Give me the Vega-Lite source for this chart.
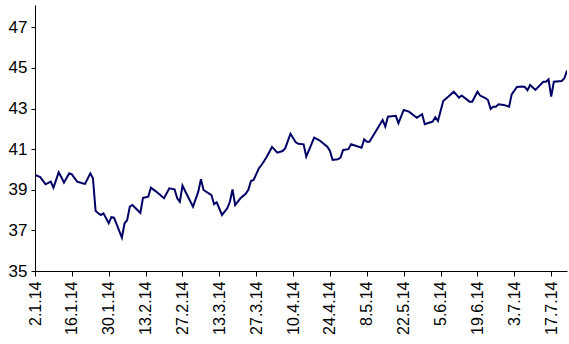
{
  "$schema": "https://vega.github.io/schema/vega-lite/v6.json",
  "width": 532,
  "height": 266,
  "autosize": {"type": "none"},
  "padding": {"left": 35, "top": 5, "right": 2, "bottom": 73},
  "background": "white",
  "config": {
    "view": {"stroke": null},
    "font": "Liberation Sans",
    "axis": {
      "grid": false,
      "domainColor": "black",
      "tickColor": "black",
      "labelColor": "black",
      "labelFont": "Liberation Sans",
      "labelFontSize": 16,
      "domainWidth": 1,
      "tickWidth": 1,
      "title": null
    }
  },
  "data": {
    "values": [
      {"date": "2014-01-02", "value": 39.73},
      {"date": "2014-01-04", "value": 39.62},
      {"date": "2014-01-06", "value": 39.27},
      {"date": "2014-01-08", "value": 39.40},
      {"date": "2014-01-09", "value": 39.10},
      {"date": "2014-01-11", "value": 39.86},
      {"date": "2014-01-12", "value": 39.62},
      {"date": "2014-01-13", "value": 39.35},
      {"date": "2014-01-15", "value": 39.81},
      {"date": "2014-01-16", "value": 39.76},
      {"date": "2014-01-18", "value": 39.40},
      {"date": "2014-01-20", "value": 39.32},
      {"date": "2014-01-21", "value": 39.29},
      {"date": "2014-01-23", "value": 39.81},
      {"date": "2014-01-24", "value": 39.57},
      {"date": "2014-01-25", "value": 37.97},
      {"date": "2014-01-26", "value": 37.84},
      {"date": "2014-01-27", "value": 37.76},
      {"date": "2014-01-28", "value": 37.84},
      {"date": "2014-01-30", "value": 37.35},
      {"date": "2014-01-31", "value": 37.65},
      {"date": "2014-02-01", "value": 37.63},
      {"date": "2014-02-04", "value": 36.64},
      {"date": "2014-02-05", "value": 37.35},
      {"date": "2014-02-06", "value": 37.51},
      {"date": "2014-02-07", "value": 38.17},
      {"date": "2014-02-08", "value": 38.25},
      {"date": "2014-02-11", "value": 37.86},
      {"date": "2014-02-12", "value": 38.60},
      {"date": "2014-02-14", "value": 38.66},
      {"date": "2014-02-15", "value": 39.10},
      {"date": "2014-02-17", "value": 38.91},
      {"date": "2014-02-20", "value": 38.58},
      {"date": "2014-02-22", "value": 39.07},
      {"date": "2014-02-24", "value": 39.02},
      {"date": "2014-02-25", "value": 38.58},
      {"date": "2014-02-26", "value": 38.41},
      {"date": "2014-02-27", "value": 39.21},
      {"date": "2014-02-28", "value": 38.94},
      {"date": "2014-03-03", "value": 38.17},
      {"date": "2014-03-05", "value": 38.91},
      {"date": "2014-03-06", "value": 39.52},
      {"date": "2014-03-07", "value": 38.99},
      {"date": "2014-03-10", "value": 38.74},
      {"date": "2014-03-11", "value": 38.29},
      {"date": "2014-03-12", "value": 38.38},
      {"date": "2014-03-14", "value": 37.76},
      {"date": "2014-03-16", "value": 38.09},
      {"date": "2014-03-17", "value": 38.41},
      {"date": "2014-03-18", "value": 39.02},
      {"date": "2014-03-19", "value": 38.25},
      {"date": "2014-03-21", "value": 38.58},
      {"date": "2014-03-23", "value": 38.80},
      {"date": "2014-03-24", "value": 39.00},
      {"date": "2014-03-25", "value": 39.43},
      {"date": "2014-03-26", "value": 39.48},
      {"date": "2014-03-28", "value": 40.06},
      {"date": "2014-03-29", "value": 40.22},
      {"date": "2014-03-30", "value": 40.42},
      {"date": "2014-03-31", "value": 40.63},
      {"date": "2014-04-02", "value": 41.11},
      {"date": "2014-04-04", "value": 40.83},
      {"date": "2014-04-06", "value": 40.91},
      {"date": "2014-04-07", "value": 41.04},
      {"date": "2014-04-09", "value": 41.76},
      {"date": "2014-04-11", "value": 41.34},
      {"date": "2014-04-12", "value": 41.27},
      {"date": "2014-04-14", "value": 41.24},
      {"date": "2014-04-15", "value": 40.63},
      {"date": "2014-04-18", "value": 41.57},
      {"date": "2014-04-20", "value": 41.44},
      {"date": "2014-04-23", "value": 41.12},
      {"date": "2014-04-24", "value": 40.91},
      {"date": "2014-04-25", "value": 40.47},
      {"date": "2014-04-27", "value": 40.50},
      {"date": "2014-04-28", "value": 40.58},
      {"date": "2014-04-29", "value": 40.96},
      {"date": "2014-05-01", "value": 41.00},
      {"date": "2014-05-02", "value": 41.24},
      {"date": "2014-05-06", "value": 41.07},
      {"date": "2014-05-07", "value": 41.49},
      {"date": "2014-05-08", "value": 41.37},
      {"date": "2014-05-09", "value": 41.37},
      {"date": "2014-05-14", "value": 42.44},
      {"date": "2014-05-15", "value": 42.11},
      {"date": "2014-05-16", "value": 42.60},
      {"date": "2014-05-19", "value": 42.64},
      {"date": "2014-05-20", "value": 42.28},
      {"date": "2014-05-22", "value": 42.93},
      {"date": "2014-05-24", "value": 42.85},
      {"date": "2014-05-27", "value": 42.55},
      {"date": "2014-05-29", "value": 42.72},
      {"date": "2014-05-30", "value": 42.23},
      {"date": "2014-06-02", "value": 42.36},
      {"date": "2014-06-03", "value": 42.57},
      {"date": "2014-06-04", "value": 42.39},
      {"date": "2014-06-06", "value": 43.37},
      {"date": "2014-06-08", "value": 43.59},
      {"date": "2014-06-10", "value": 43.83},
      {"date": "2014-06-12", "value": 43.54},
      {"date": "2014-06-13", "value": 43.64},
      {"date": "2014-06-16", "value": 43.34},
      {"date": "2014-06-17", "value": 43.34},
      {"date": "2014-06-19", "value": 43.83},
      {"date": "2014-06-20", "value": 43.64},
      {"date": "2014-06-22", "value": 43.51},
      {"date": "2014-06-23", "value": 43.42},
      {"date": "2014-06-24", "value": 42.98},
      {"date": "2014-06-25", "value": 43.09},
      {"date": "2014-06-26", "value": 43.09},
      {"date": "2014-06-27", "value": 43.21},
      {"date": "2014-06-29", "value": 43.18},
      {"date": "2014-07-01", "value": 43.09},
      {"date": "2014-07-02", "value": 43.70},
      {"date": "2014-07-04", "value": 44.06},
      {"date": "2014-07-06", "value": 44.08},
      {"date": "2014-07-07", "value": 44.06},
      {"date": "2014-07-08", "value": 43.90},
      {"date": "2014-07-09", "value": 44.16},
      {"date": "2014-07-11", "value": 43.92},
      {"date": "2014-07-14", "value": 44.32},
      {"date": "2014-07-15", "value": 44.32},
      {"date": "2014-07-16", "value": 44.44},
      {"date": "2014-07-17", "value": 43.59},
      {"date": "2014-07-18", "value": 44.32},
      {"date": "2014-07-21", "value": 44.36},
      {"date": "2014-07-22", "value": 44.49},
      {"date": "2014-07-23", "value": 44.87}
    ]
  },
  "mark": {"type": "line", "color": "#000066", "strokeWidth": 2, "clip": true},
  "encoding": {
    "x": {
      "field": "date",
      "type": "temporal",
      "timeUnit": "utcyearmonthdate",
      "scale": {"domain": [
        {"year": 2014, "month": 1, "date": 2, "utc": true},
        {"year": 2014, "month": 7, "date": 23, "utc": true}
      ]},
      "axis": {
        "values": [
          {"year": 2014, "month": 1, "date": 2, "utc": true},
          {"year": 2014, "month": 1, "date": 16, "utc": true},
          {"year": 2014, "month": 1, "date": 30, "utc": true},
          {"year": 2014, "month": 2, "date": 13, "utc": true},
          {"year": 2014, "month": 2, "date": 27, "utc": true},
          {"year": 2014, "month": 3, "date": 13, "utc": true},
          {"year": 2014, "month": 3, "date": 27, "utc": true},
          {"year": 2014, "month": 4, "date": 10, "utc": true},
          {"year": 2014, "month": 4, "date": 24, "utc": true},
          {"year": 2014, "month": 5, "date": 8, "utc": true},
          {"year": 2014, "month": 5, "date": 22, "utc": true},
          {"year": 2014, "month": 6, "date": 5, "utc": true},
          {"year": 2014, "month": 6, "date": 19, "utc": true},
          {"year": 2014, "month": 7, "date": 3, "utc": true},
          {"year": 2014, "month": 7, "date": 17, "utc": true}
        ],
        "format": "%-d.%-m.%y",
        "labelAngle": -90,
        "labelAlign": "right",
        "labelBaseline": "middle",
        "tickSize": 5,
        "labelPadding": 5,
        "labelOverlap": false,
        "labelFlush": false
      }
    },
    "y": {
      "field": "value",
      "type": "quantitative",
      "scale": {"domain": [35, 48.1], "nice": false, "zero": false},
      "axis": {
        "values": [35, 37, 39, 41, 43, 45, 47],
        "tickSize": 4,
        "labelPadding": 4,
        "labelFontSize": 17
      }
    }
  }
}
